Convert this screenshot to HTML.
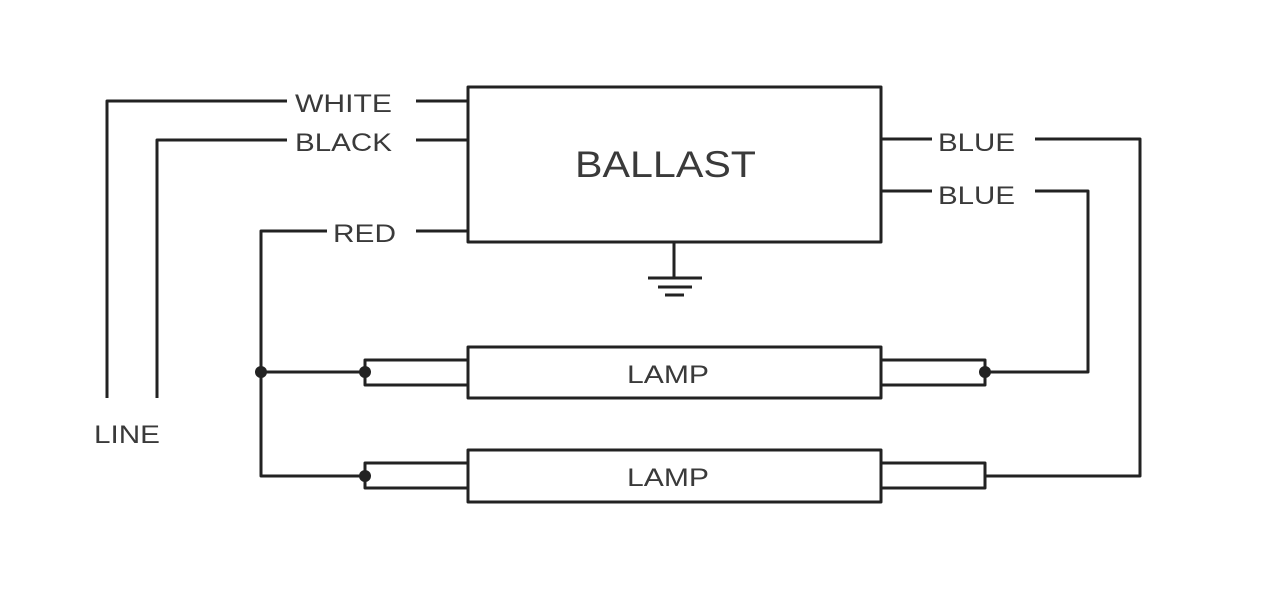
<!DOCTYPE html>
<html><head><style>
html,body{margin:0;padding:0;background:#fff;width:1280px;height:596px;overflow:hidden}
svg text{font-family:"Liberation Sans",sans-serif;fill:#3a3a3a}
</style></head><body>
<svg width="1280" height="596" viewBox="0 0 1280 596" xmlns="http://www.w3.org/2000/svg">
<g fill="none" stroke="#222" stroke-width="3" stroke-linejoin="round">
<rect x="468" y="87" width="413" height="155"/>
<polyline points="107,398 107,101 287,101"/>
<line x1="416" y1="101" x2="468" y2="101"/>
<polyline points="157,398 157,140 287,140"/>
<line x1="416" y1="140" x2="468" y2="140"/>
<polyline points="327,231 261,231 261,476 365,476"/>
<line x1="416" y1="231" x2="468" y2="231"/>
<line x1="261" y1="372" x2="365" y2="372"/>
<line x1="674" y1="242" x2="674" y2="278"/>
<line x1="648" y1="278" x2="702" y2="278"/>
<line x1="658" y1="287" x2="692" y2="287"/>
<line x1="665" y1="295" x2="684" y2="295"/>
<rect x="468" y="347" width="413" height="51"/>
<rect x="365" y="360" width="103" height="25"/>
<rect x="881" y="360" width="104" height="25"/>
<rect x="468" y="450" width="413" height="52"/>
<rect x="365" y="463" width="103" height="25"/>
<rect x="881" y="463" width="104" height="25"/>
<polyline points="985,372 1088,372 1088,191 1035,191"/>
<line x1="881" y1="191" x2="932" y2="191"/>
<polyline points="985,476 1140,476 1140,139 1035,139"/>
<line x1="881" y1="139" x2="932" y2="139"/>
</g>
<g fill="#222">
<circle cx="261" cy="372" r="6"/>
<circle cx="365" cy="372" r="6"/>
<circle cx="365" cy="476" r="6"/>
<circle cx="985" cy="372" r="6"/>
</g>
<text x="295" y="112" font-size="25" textLength="97" lengthAdjust="spacingAndGlyphs">WHITE</text>
<text x="295" y="151" font-size="25" textLength="97" lengthAdjust="spacingAndGlyphs">BLACK</text>
<text x="333" y="242" font-size="25" textLength="63" lengthAdjust="spacingAndGlyphs">RED</text>
<text x="94" y="443" font-size="25" textLength="66" lengthAdjust="spacingAndGlyphs">LINE</text>
<text x="938" y="151" font-size="25" textLength="77" lengthAdjust="spacingAndGlyphs">BLUE</text>
<text x="938" y="204" font-size="25" textLength="77" lengthAdjust="spacingAndGlyphs">BLUE</text>
<text x="575" y="177" font-size="37" textLength="181" lengthAdjust="spacingAndGlyphs">BALLAST</text>
<text x="627" y="383" font-size="25" textLength="82" lengthAdjust="spacingAndGlyphs">LAMP</text>
<text x="627" y="486" font-size="25" textLength="82" lengthAdjust="spacingAndGlyphs">LAMP</text>
</svg>
</body></html>
